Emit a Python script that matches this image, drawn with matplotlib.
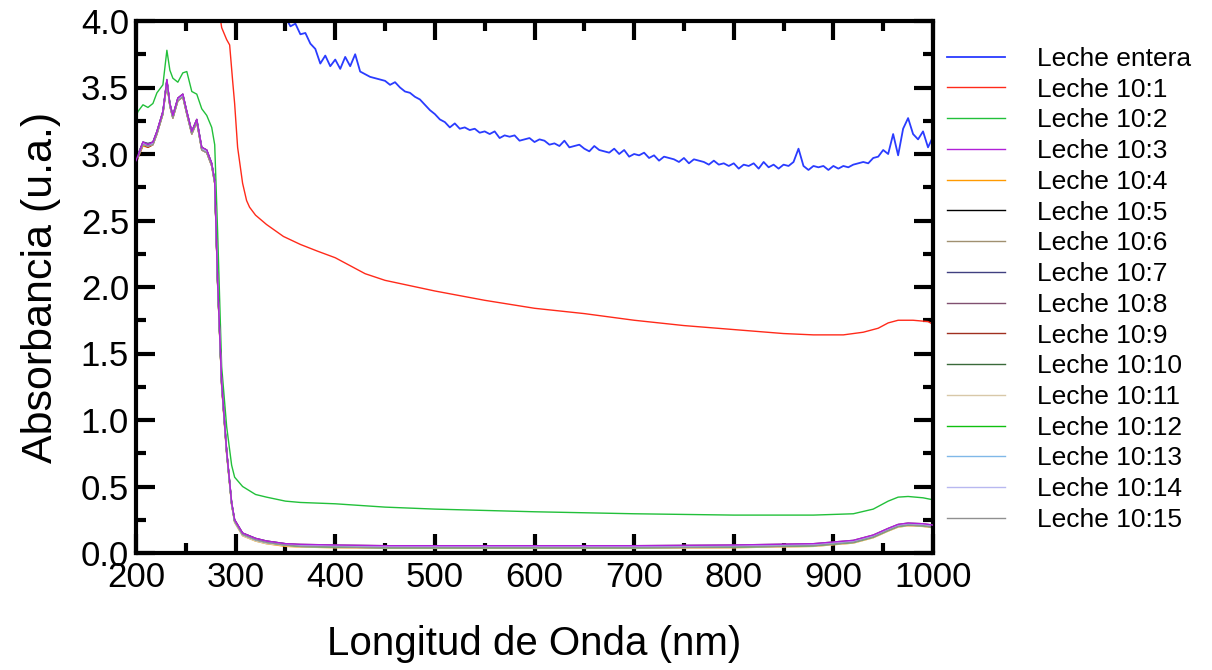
import numpy as np
import matplotlib
matplotlib.use("Agg")
import matplotlib.pyplot as plt
from matplotlib.ticker import MultipleLocator

plt.rcParams['font.family'] = ['Liberation Sans', 'DejaVu Sans']

# ============================================================
# Datos
# ============================================================

# Leche entera, 350-1000 nm cada 5 nm
wl_entera = list(range(350, 1001, 5))
leche_entera = [
    4.03, 3.96, 3.98, 3.90, 3.91, 3.83, 3.79, 3.68, 3.74, 3.66,
    3.71, 3.64, 3.73, 3.66, 3.75, 3.62, 3.60, 3.58, 3.57, 3.56,
    3.55, 3.52, 3.54, 3.50, 3.47, 3.46, 3.43, 3.41, 3.37, 3.33,
    3.30, 3.26, 3.24, 3.20, 3.23, 3.19, 3.20, 3.18, 3.19, 3.16,
    3.17, 3.15, 3.17, 3.12, 3.14, 3.13, 3.14, 3.10, 3.11, 3.12,
    3.09, 3.11, 3.10, 3.07, 3.08, 3.06, 3.10, 3.05, 3.06, 3.07,
    3.04, 3.02, 3.06, 3.03, 3.02, 3.01, 3.04, 3.00, 3.03, 2.98,
    3.00, 2.99, 3.01, 2.97, 2.99, 2.95, 2.98, 2.97, 2.96, 2.94,
    2.97, 2.93, 2.96, 2.95, 2.94, 2.92, 2.95, 2.92, 2.93, 2.91,
    2.93, 2.89, 2.92, 2.91, 2.93, 2.89, 2.94, 2.90, 2.92, 2.89,
    2.92, 2.91, 2.94, 3.04, 2.91, 2.88, 2.91, 2.90, 2.91, 2.88,
    2.91, 2.89, 2.91, 2.90, 2.92, 2.93, 2.94, 2.93, 2.97, 2.98,
    3.03, 3.00, 3.15, 2.99, 3.19, 3.27, 3.15, 3.11, 3.17, 3.05,
    3.13,
]

# Leche 10:1
wl_101 = [284, 286, 291, 294, 297, 299, 302, 307, 311, 314, 320, 331, 348,
          365, 382, 400, 410, 430, 450, 500, 550, 600, 650, 700, 750, 800,
          850, 880, 910, 930, 945, 955, 965, 980, 995, 1000]
leche_101 = [4.05, 3.95, 3.86, 3.82, 3.55, 3.38, 3.05, 2.78, 2.65, 2.60,
             2.54, 2.47, 2.38, 2.32, 2.27, 2.22, 2.18, 2.10, 2.05, 1.97,
             1.90, 1.84, 1.80, 1.75, 1.71, 1.68, 1.65, 1.64, 1.64, 1.66,
             1.69, 1.73, 1.75, 1.75, 1.74, 1.72]

# Resto de diluciones: malla comun
wl_s = [200, 202, 207, 212, 217, 221, 227, 231, 234, 237, 242, 247, 251,
        256, 261, 266, 271, 276, 279, 282, 286, 291, 296, 299, 307, 320,
        331, 350, 365, 400, 450, 500, 600, 700, 800, 880, 920, 940, 955,
        965, 975, 990, 1000]

leche_102 = [3.28, 3.32, 3.37, 3.35, 3.38, 3.46, 3.52, 3.78, 3.63, 3.57,
             3.54, 3.61, 3.62, 3.47, 3.45, 3.34, 3.29, 3.20, 3.07, 2.40,
             1.40, 0.95, 0.66, 0.57, 0.50, 0.44, 0.42, 0.39, 0.38, 0.37,
             0.345, 0.33, 0.31, 0.295, 0.285, 0.285, 0.295, 0.33, 0.39,
             0.42, 0.425, 0.415, 0.40]
leche_103 = [2.95, 2.99, 3.09, 3.07, 3.09, 3.17, 3.32, 3.56, 3.38, 3.29,
             3.42, 3.45, 3.32, 3.17, 3.26, 3.05, 3.03, 2.93, 2.80, 2.03,
             1.28, 0.77, 0.38, 0.25, 0.15, 0.11, 0.09, 0.07, 0.065, 0.06,
             0.055, 0.055, 0.055, 0.055, 0.06, 0.07, 0.095, 0.135, 0.185,
             0.215, 0.225, 0.22, 0.21]
leche_104 = [2.93, 2.97, 3.06, 3.05, 3.07, 3.15, 3.30, 3.53, 3.36, 3.27,
             3.40, 3.43, 3.30, 3.15, 3.24, 3.03, 3.01, 2.91, 2.78, 2.00,
             1.25, 0.74, 0.36, 0.23, 0.13, 0.09, 0.07, 0.05, 0.045, 0.04,
             0.035, 0.035, 0.035, 0.035, 0.04, 0.05, 0.075, 0.115, 0.165,
             0.195, 0.205, 0.20, 0.19]
leche_105 = [2.94, 2.98, 3.08, 3.06, 3.08, 3.16, 3.31, 3.55, 3.37, 3.28,
             3.41, 3.44, 3.31, 3.16, 3.25, 3.04, 3.02, 2.92, 2.79, 2.02,
             1.27, 0.76, 0.37, 0.24, 0.14, 0.10, 0.08, 0.06, 0.055, 0.05,
             0.045, 0.045, 0.045, 0.045, 0.05, 0.06, 0.085, 0.125, 0.175,
             0.205, 0.215, 0.21, 0.20]
leche_106 = [2.95, 2.99, 3.08, 3.07, 3.08, 3.16, 3.31, 3.54, 3.37, 3.28,
             3.41, 3.44, 3.31, 3.16, 3.25, 3.04, 3.02, 2.92, 2.80, 2.02,
             1.27, 0.76, 0.37, 0.24, 0.14, 0.10, 0.08, 0.06, 0.05, 0.045,
             0.04, 0.04, 0.04, 0.04, 0.045, 0.055, 0.08, 0.12, 0.17, 0.20,
             0.21, 0.205, 0.195]
leche_107 = [2.96, 3.00, 3.09, 3.08, 3.09, 3.17, 3.32, 3.55, 3.38, 3.29,
             3.42, 3.45, 3.32, 3.17, 3.26, 3.05, 3.03, 2.93, 2.80, 2.03,
             1.28, 0.77, 0.38, 0.25, 0.15, 0.11, 0.09, 0.07, 0.06, 0.055,
             0.05, 0.05, 0.05, 0.05, 0.055, 0.065, 0.09, 0.13, 0.18, 0.21,
             0.22, 0.215, 0.205]
leche_108 = [2.95, 2.99, 3.09, 3.07, 3.09, 3.17, 3.32, 3.56, 3.38, 3.29,
             3.42, 3.45, 3.32, 3.17, 3.26, 3.05, 3.03, 2.93, 2.80, 2.03,
             1.28, 0.77, 0.38, 0.25, 0.15, 0.11, 0.09, 0.07, 0.065, 0.06,
             0.055, 0.055, 0.055, 0.055, 0.06, 0.07, 0.095, 0.135, 0.185,
             0.215, 0.225, 0.22, 0.21]
leche_109 = [2.93, 2.97, 3.07, 3.05, 3.07, 3.15, 3.30, 3.54, 3.36, 3.27,
             3.40, 3.43, 3.30, 3.15, 3.24, 3.03, 3.01, 2.91, 2.78, 2.01,
             1.26, 0.75, 0.37, 0.24, 0.14, 0.10, 0.08, 0.06, 0.05, 0.045,
             0.04, 0.04, 0.04, 0.04, 0.045, 0.055, 0.08, 0.12, 0.17, 0.20,
             0.21, 0.205, 0.195]
leche_1010 = [2.95, 2.99, 3.08, 3.07, 3.08, 3.16, 3.31, 3.55, 3.37, 3.28,
              3.41, 3.44, 3.31, 3.16, 3.25, 3.04, 3.02, 2.92, 2.79, 2.02,
              1.27, 0.76, 0.37, 0.24, 0.14, 0.10, 0.08, 0.065, 0.055, 0.05,
              0.045, 0.045, 0.045, 0.045, 0.05, 0.06, 0.085, 0.125, 0.175,
              0.205, 0.215, 0.21, 0.20]
leche_1011 = [2.94, 2.98, 3.07, 3.06, 3.07, 3.15, 3.30, 3.54, 3.36, 3.27,
              3.40, 3.43, 3.30, 3.15, 3.24, 3.03, 3.01, 2.91, 2.78, 2.01,
              1.26, 0.75, 0.36, 0.23, 0.13, 0.09, 0.07, 0.055, 0.045, 0.04,
              0.035, 0.035, 0.035, 0.035, 0.04, 0.05, 0.075, 0.115, 0.165,
              0.195, 0.205, 0.20, 0.19]
leche_1012 = [2.95, 2.99, 3.08, 3.07, 3.08, 3.16, 3.31, 3.55, 3.37, 3.28,
              3.41, 3.44, 3.31, 3.16, 3.25, 3.04, 3.02, 2.92, 2.79, 2.02,
              1.27, 0.76, 0.37, 0.24, 0.14, 0.10, 0.08, 0.06, 0.05, 0.045,
              0.04, 0.04, 0.04, 0.04, 0.045, 0.055, 0.08, 0.12, 0.17, 0.20,
              0.21, 0.205, 0.195]
leche_1013 = [2.94, 2.98, 3.08, 3.06, 3.08, 3.16, 3.31, 3.55, 3.37, 3.28,
              3.41, 3.44, 3.31, 3.16, 3.25, 3.04, 3.02, 2.92, 2.79, 2.02,
              1.27, 0.76, 0.37, 0.24, 0.14, 0.10, 0.08, 0.06, 0.055, 0.05,
              0.045, 0.045, 0.045, 0.045, 0.05, 0.06, 0.085, 0.125, 0.175,
              0.205, 0.215, 0.21, 0.20]
leche_1014 = [2.95, 2.99, 3.08, 3.07, 3.08, 3.16, 3.31, 3.55, 3.37, 3.28,
              3.41, 3.44, 3.31, 3.16, 3.25, 3.04, 3.02, 2.92, 2.79, 2.02,
              1.27, 0.76, 0.37, 0.24, 0.14, 0.10, 0.08, 0.065, 0.06, 0.055,
              0.05, 0.05, 0.05, 0.05, 0.055, 0.065, 0.09, 0.13, 0.18, 0.21,
              0.22, 0.215, 0.205]
leche_1015 = [2.94, 2.98, 3.07, 3.06, 3.07, 3.15, 3.30, 3.54, 3.36, 3.27,
              3.40, 3.43, 3.30, 3.15, 3.24, 3.03, 3.01, 2.91, 2.78, 2.01,
              1.26, 0.75, 0.37, 0.24, 0.14, 0.10, 0.08, 0.06, 0.05, 0.045,
              0.04, 0.04, 0.04, 0.04, 0.045, 0.055, 0.08, 0.12, 0.17, 0.20,
              0.21, 0.205, 0.195]

etiquetas = ['Leche entera', 'Leche 10:1', 'Leche 10:2', 'Leche 10:3',
             'Leche 10:4', 'Leche 10:5', 'Leche 10:6', 'Leche 10:7',
             'Leche 10:8', 'Leche 10:9', 'Leche 10:10', 'Leche 10:11',
             'Leche 10:12', 'Leche 10:13', 'Leche 10:14', 'Leche 10:15']

colores = ['#2a3cff', '#ff2a1a', '#22c03a', '#b020d8', '#ff9a00', '#000000',
           '#a09070', '#404080', '#805070', '#a03020', '#3a6a3a', '#d8c8a8',
           '#10c010', '#80b8e8', '#b8b8f0', '#909090']

# ============================================================
# Figura
# ============================================================

fig = plt.figure(figsize=(12.12, 6.70), dpi=100)
ax = fig.add_axes([136 / 1212, 1 - 553 / 670, 797 / 1212, 532 / 670])

series = [
    (wl_entera, leche_entera),
    (wl_101, leche_101),
    (wl_s, leche_102),
    (wl_s, leche_103),
    (wl_s, leche_104),
    (wl_s, leche_105),
    (wl_s, leche_106),
    (wl_s, leche_107),
    (wl_s, leche_108),
    (wl_s, leche_109),
    (wl_s, leche_1010),
    (wl_s, leche_1011),
    (wl_s, leche_1012),
    (wl_s, leche_1013),
    (wl_s, leche_1014),
    (wl_s, leche_1015),
]

for i, (x, y) in enumerate(series):
    z = 2
    if i == 3:
        z = 3  # el morado queda encima
    lw = 1.3 if i == 0 else 1.0
    ax.plot(x, y, color=colores[i], lw=lw, label=etiquetas[i], zorder=z)

# ============================================================
# Ejes
# ============================================================

ax.set_xlim(200, 1000)
ax.set_ylim(0, 4.0)
ax.xaxis.set_major_locator(MultipleLocator(100))
ax.xaxis.set_minor_locator(MultipleLocator(50))
ax.yaxis.set_major_locator(MultipleLocator(0.5))
ax.yaxis.set_minor_locator(MultipleLocator(0.25))
ax.yaxis.set_major_formatter(matplotlib.ticker.FormatStrFormatter('%.1f'))

for s in ax.spines.values():
    s.set_linewidth(3)

ax.tick_params(which='both', direction='in', top=True, right=True,
               width=3, labelsize=25)
ax.tick_params(which='major', length=14)
ax.tick_params(which='minor', length=7)
ax.tick_params(axis='y', pad=5)
ax.tick_params(axis='x', pad=6)

ax.set_xlabel('Longitud de Onda (nm)', fontsize=29, labelpad=22)
ax.set_ylabel('Absorbancia (u.a.)', fontsize=31, labelpad=14)

ax.legend(loc='upper left', bbox_to_anchor=(947 / 1212, 1 - 47 / 670),
          bbox_transform=fig.transFigure, frameon=False, fontsize=19,
          handlelength=2.2, handletextpad=1.2, labelspacing=0.255,
          borderpad=0, borderaxespad=0)

fig.savefig('out.png', dpi=100)
